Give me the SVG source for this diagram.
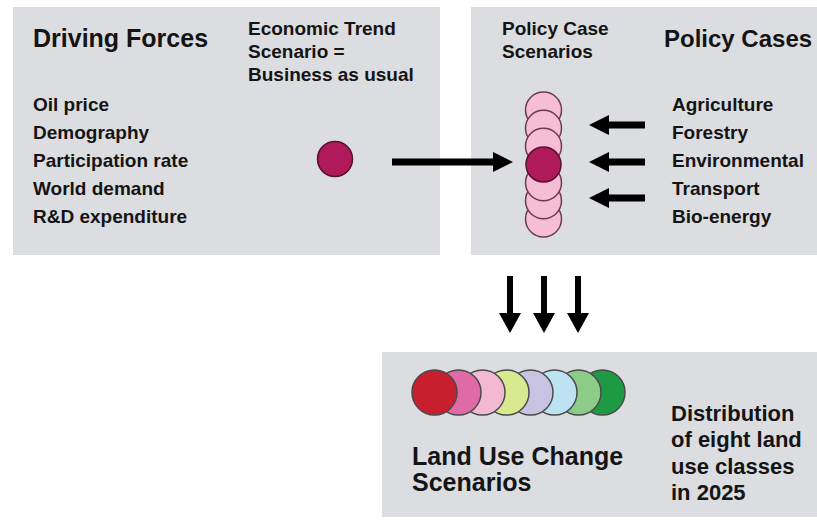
<svg xmlns="http://www.w3.org/2000/svg" width="817" height="522" viewBox="0 0 817 522">
<defs>
<style>
.box{fill:#dcdde0}
.t{font-family:"Liberation Sans",Arial,sans-serif;font-weight:bold;fill:#141414}
.big{font-size:25px}
.mid{font-size:19px}
.lg{font-size:22px}
.pink{fill:#f6bdd5;stroke:#6b3d50;stroke-width:1.5}
.dark{fill:#b01a5a;stroke:#5a1030;stroke-width:1.5}
.lu{stroke:#4a4a4a;stroke-width:1.5}
.arr{stroke:#000;fill:none}
</style>
<marker id="ah" viewBox="0 0 20 20" markerWidth="20" markerHeight="20" refX="0" refY="10" orient="auto" markerUnits="userSpaceOnUse">
<path d="M0,0 L20,10 L0,20 z" fill="#000"/>
</marker>
<marker id="ahd" viewBox="0 0 20 22" markerWidth="20" markerHeight="22" refX="0" refY="11" orient="auto" markerUnits="userSpaceOnUse">
<path d="M0,0 L20,11 L0,22 z" fill="#000"/>
</marker>
</defs>
<rect width="817" height="522" fill="#ffffff"/>

<g id="driving-forces">
<rect class="box" x="13" y="7" width="427" height="248"/>
<text class="t big" x="33" y="47">Driving Forces</text>
<text class="t mid" x="33" y="111">Oil price</text>
<text class="t mid" x="33" y="139">Demography</text>
<text class="t mid" x="33" y="167">Participation rate</text>
<text class="t mid" x="33" y="195">World demand</text>
<text class="t mid" x="33" y="223">R&amp;D expenditure</text>
<text class="t mid" x="248" y="35">Economic Trend</text>
<text class="t mid" x="248" y="58">Scenario =</text>
<text class="t mid" x="248" y="81">Business as usual</text>
</g>

<g id="economic-trend-scenario">
<circle class="dark" cx="335" cy="159" r="17.5"/>
</g>

<g id="policy-cases">
<rect class="box" x="471" y="7" width="346" height="248"/>
<text class="t mid" x="502" y="35">Policy Case</text>
<text class="t mid" x="502" y="58">Scenarios</text>
<text class="t" x="664" y="47" font-size="24">Policy Cases</text>
<text class="t mid" x="672" y="111">Agriculture</text>
<text class="t mid" x="672" y="139">Forestry</text>
<text class="t mid" x="672" y="167">Environmental</text>
<text class="t mid" x="672" y="195">Transport</text>
<text class="t mid" x="672" y="223">Bio-energy</text>
</g>

<g id="policy-case-scenarios">
<circle class="pink" cx="543.5" cy="110" r="18"/>
<circle class="pink" cx="543.5" cy="128.2" r="18"/>
<circle class="pink" cx="543.5" cy="146.3" r="18"/>
<circle class="pink" cx="543.5" cy="219" r="18"/>
<circle class="pink" cx="543.5" cy="200.8" r="18"/>
<circle class="pink" cx="543.5" cy="182.7" r="18"/>
<circle class="dark" cx="543.5" cy="164.5" r="17.5"/>
</g>

<g id="land-use-change">
<rect class="box" x="382" y="352" width="435" height="165"/>
<circle class="lu" cx="602.5" cy="392.5" r="22.5" fill="#1f9a44"/>
<circle class="lu" cx="578.5" cy="392.5" r="22.5" fill="#8dcc88"/>
<circle class="lu" cx="554.5" cy="392.5" r="22.5" fill="#bde2f2"/>
<circle class="lu" cx="530.5" cy="392.5" r="22.5" fill="#c8c3e2"/>
<circle class="lu" cx="506.5" cy="392.5" r="22.5" fill="#d9e98f"/>
<circle class="lu" cx="482.5" cy="392.5" r="22.5" fill="#f3b8d2"/>
<circle class="lu" cx="458.5" cy="392.5" r="22.5" fill="#e06aa8"/>
<circle class="lu" cx="434.5" cy="392.5" r="22.5" fill="#c81f2e"/>
<text class="t big" x="412" y="465">Land Use Change</text>
<text class="t big" x="412" y="491">Scenarios</text>
<text class="t lg" x="671" y="421">Distribution</text>
<text class="t lg" x="671" y="447">of eight land</text>
<text class="t lg" x="671" y="474">use classes</text>
<text class="t lg" x="671" y="500">in 2025</text>
</g>

<g id="connectors">
<line class="arr" x1="392" y1="162" x2="493" y2="162" stroke-width="7" marker-end="url(#ah)"/>
<line class="arr" x1="645" y1="125" x2="609" y2="125" stroke-width="7" marker-end="url(#ah)"/>
<line class="arr" x1="645" y1="162" x2="609" y2="162" stroke-width="7" marker-end="url(#ah)"/>
<line class="arr" x1="645" y1="198" x2="609" y2="198" stroke-width="7" marker-end="url(#ah)"/>
<line class="arr" x1="510" y1="276" x2="510" y2="313" stroke-width="6" marker-end="url(#ahd)"/>
<line class="arr" x1="544" y1="276" x2="544" y2="313" stroke-width="6" marker-end="url(#ahd)"/>
<line class="arr" x1="578" y1="276" x2="578" y2="313" stroke-width="6" marker-end="url(#ahd)"/>
</g>
</svg>
